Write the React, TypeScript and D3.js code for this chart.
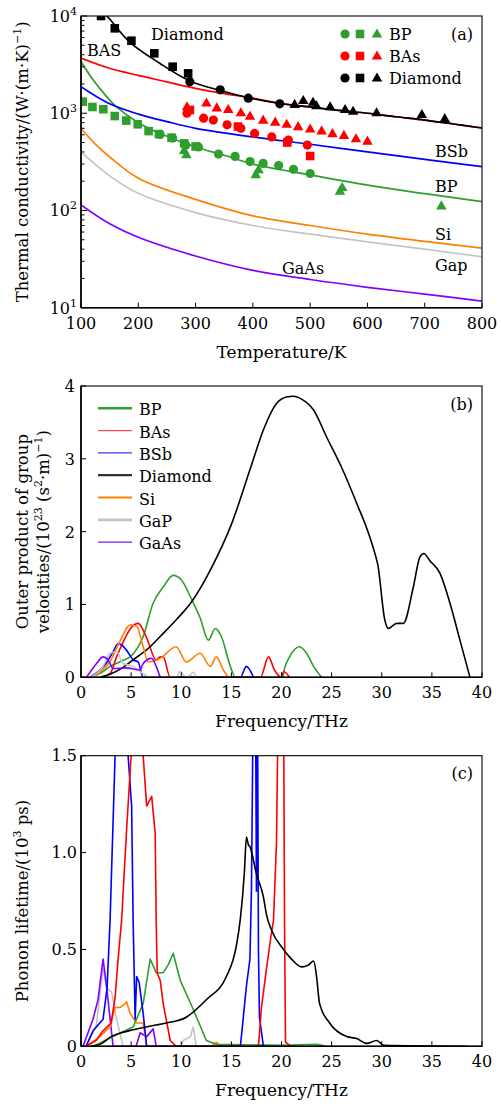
import React from 'react';
import * as d3 from 'd3';

const FONT = "'DejaVu Serif', serif";
const C_GREEN = '#2e9e2e';
const C_RED = '#ff0000';
const C_BLUE = '#0000ff';
const C_BLACK = '#000000';
const C_ORANGE = '#ff8000';
const C_GRAY = '#c4c4c4';
const C_PURPLE = '#8000ff';

// ---------- Panel (a): thermal conductivity vs temperature ----------
const aTempTicks = [100, 200, 300, 400, 500, 600, 700, 800];
const aDecades = [1, 2, 3, 4];

const aDiamondModel: [number, number][] = [[125, 12500], [145, 10000], [185, 5400], [238, 3250], [290, 2150], [342, 1720], [391, 1450], [447, 1260], [500, 1160], [550, 1070], [600, 1000], [650, 920], [700, 850], [750, 775], [800, 705]];
const aBAsModel: [number, number][] = [[100, 3700], [150, 2900], [200, 2450], [250, 2100], [300, 1800], [350, 1590], [400, 1430], [450, 1255], [500, 1160], [550, 1070], [600, 1000], [650, 920], [700, 850], [750, 775], [800, 705]];
const aBSbModel: [number, number][] = [[100, 1875], [150, 1250], [200, 980], [250, 820], [300, 700], [400, 570], [500, 480], [600, 400], [700, 335], [800, 282]];
const aBPModel: [number, number][] = [[100, 3400], [120, 2250], [140, 1600], [162, 1160], [200, 800], [238, 620], [300, 450], [350, 370], [400, 300], [500, 232], [600, 182], [700, 149], [800, 123]];
const aSiModel: [number, number][] = [[100, 700], [125, 480], [150, 355], [200, 215], [300, 130], [400, 88], [500, 70], [600, 57], [700, 48], [800, 41]];
const aGaPModel: [number, number][] = [[100, 400], [150, 227], [200, 150], [300, 95], [400, 70], [500, 57], [600, 47.5], [700, 40], [800, 33.4]];
const aGaAsModel: [number, number][] = [[100, 114], [150, 73], [200, 53], [300, 34], [400, 24.2], [500, 19.5], [600, 16.2], [700, 13.8], [800, 11.7]];

const aDiamondSquares: [number, number][] = [[135, 10000], [159, 7470], [188, 5570], [228, 4130], [260, 3010], [287, 2570]];
const aDiamondCircles: [number, number][] = [[290, 2110], [343, 1740], [392, 1430], [447, 1250]];
const aDiamondTriangles: [number, number][] = [[473, 1217], [488, 1336], [505, 1280], [511, 1180], [535, 1150], [561, 1080], [575, 1035], [616, 1000], [695, 960], [735, 870]];
const aBAsTriangles: [number, number][] = [[285, 1150], [319, 1260], [337, 1120], [357, 1080], [379, 1000], [395, 920], [418, 840], [439, 800], [459, 760], [479, 720], [500, 680], [520, 650], [539, 610], [559, 585], [580, 540], [600, 510]];
const aBAsCircles: [number, number][] = [[285, 1000], [314, 890], [331, 850], [355, 760], [379, 700], [403, 620], [433, 570], [462, 530], [495, 470]];
const aBAsSquares: [number, number][] = [[290, 1080], [374, 730], [460, 500], [500, 363]];
const aBPSquares: [number, number][] = [[103, 1316], [120, 1160], [139, 1100], [159, 935], [179, 840], [199, 770], [218, 655], [236, 610], [258, 560], [280, 490], [300, 455]];
const aBPCircles: [number, number][] = [[238, 605], [260, 555], [283, 470], [305, 450], [340, 380], [369, 360], [395, 318], [418, 305], [445, 290], [471, 265], [500, 240]];
const aBPTriangles: [number, number][] = [[280, 410], [284, 370], [405, 231], [410, 260], [552, 156], [556, 170], [729, 110]];

// ---------- Panel (b): outer product of group velocities ----------
const bFreqTicks = [0, 5, 10, 15, 20, 25, 30, 35, 40];
const bValueTicks = [0, 1, 2, 3, 4];
const bBP: [number, number][] = [[0.9, 0], [2, 0.06], [2.9, 0.15], [4, 0.22], [5.2, 0.32], [6.2, 0.56], [7.2, 1.02], [8.2, 1.24], [9.2, 1.40], [10, 1.34], [11, 1.08], [11.9, 0.81], [12.7, 0.51], [13.4, 0.67], [14, 0.56], [14.9, 0.15], [15.4, 0], [20.1, 0], [20.3, 0.12], [20.8, 0.28], [21.8, 0.42], [22.5, 0.33], [23.2, 0.15], [24, 0]];
const bBAs: [number, number][] = [[2, 0], [2.9, 0.05], [3.55, 0.28], [4.55, 0.58], [5.0, 0.68], [5.7, 0.74], [6.5, 0.56], [7.5, 0.24], [7.9, 0.28], [8.2, 0.28], [8.9, 0], [17.9, 0], [18.7, 0.28], [19.3, 0.1], [20, 0], [20.2, 0.08], [20.8, 0]];
const bBSb: [number, number][] = [[0.9, 0], [2.55, 0.2], [3.2, 0.35], [3.7, 0.46], [4.1, 0.44], [4.5, 0.38], [5.2, 0.24], [5.7, 0.21], [6.2, 0], [15.9, 0], [16.5, 0.15], [17.2, 0]];
const bDiamond: [number, number][] = [[1.9, 0], [3, 0.05], [4, 0.12], [5.2, 0.24], [6.9, 0.42], [7.9, 0.56], [9.5, 0.79], [11, 1.03], [13, 1.5], [15, 2.1], [16.9, 2.87], [18.2, 3.40], [19.5, 3.76], [20.5, 3.85], [21.2, 3.86], [22, 3.82], [23.2, 3.67], [24.5, 3.30], [26.1, 2.85], [27.5, 2.39], [28.8, 1.93], [29.4, 1.66], [29.6, 1.55], [30.3, 0.79], [30.65, 0.67], [31.5, 0.74], [32.15, 0.74], [33.15, 1.24], [33.8, 1.65], [34.2, 1.70], [34.8, 1.60], [35.8, 1.43], [36.8, 1.02], [37.8, 0.51], [38.8, 0]];
const bSi: [number, number][] = [[0.9, 0], [2.9, 0.22], [3.9, 0.5], [4.9, 0.72], [5.55, 0.70], [6.2, 0.42], [6.7, 0.21], [7.2, 0.22], [7.9, 0.26], [9.5, 0.42], [10.5, 0.21], [11.9, 0.33], [12.9, 0.15], [13.5, 0.28], [14.2, 0.1], [14.7, 0]];
const bGaP: [number, number][] = [[1, 0], [2.2, 0.15], [2.9, 0.33], [3.55, 0.35], [4.2, 0.19], [5.2, 0.15], [6.2, 0.05], [6.9, 0], [9.5, 0], [9.9, 0.08], [10.5, 0], [10.8, 0.02], [11.2, 0.07], [11.5, 0]];
const bGaAs: [number, number][] = [[0.55, 0], [1.55, 0.19], [2.2, 0.28], [2.7, 0.24], [3.2, 0.12], [4.5, 0.13], [5.9, 0.1], [6.2, 0.19], [7.05, 0.26], [7.5, 0.15], [7.9, 0]];

// ---------- Panel (c): phonon lifetime ----------
const cValueTicks = [0, 0.5, 1.0, 1.5];
const cValueLabels = ['0', '0.5', '1.0', '1.5'];
const cBP: [number, number][] = [[1.2, 0], [2, 0.02], [3.55, 0.06], [5.2, 0.1], [6.2, 0.22], [6.9, 0.45], [7.5, 0.38], [8.2, 0.38], [8.7, 0.42], [9.2, 0.48], [9.9, 0.34], [11.2, 0.19], [12.5, 0.03], [13.5, 0.01], [20, 0.005], [23.5, 0.01], [24.5, 0]];
const cBAs: [number, number][] = [[0.5, 0], [1.5, 0.03], [2.2, 0.08], [3, 0.12], [3.4, 0.25], [3.7, 0.45], [4.05, 0.65], [4.55, 1.12], [5.0, 1.5], [5.5, 1.9], [6.0, 1.9], [6.2, 1.5], [6.55, 1.24], [7.05, 1.29], [7.4, 1.1], [7.5, 0.65], [7.6, 0.38], [7.9, 0.34], [8.2, 0.22], [8.9, 0.03], [9.5, 0], [17.7, 0], [18, 0.2], [18.5, 0.4], [18.9, 0.55], [19.2, 0.65], [19.5, 1.05], [19.7, 1.9], [20.2, 1.9], [20.3, 0.65], [20.4, 0.02], [21, 0]];
const cBSb: [number, number][] = [[0.5, 0], [1.2, 0.08], [2.2, 0.14], [2.6, 0.3], [2.9, 0.65], [3.4, 1.5], [3.6, 1.9], [4.5, 1.9], [4.7, 1.5], [5.05, 1.24], [5.2, 0.65], [5.4, 0.14], [5.55, 0.36], [5.8, 0.33], [6.2, 0.17], [6.55, 0], [15.9, 0], [16.5, 0.31], [16.85, 0.45], [17.0, 0.8], [17.2, 1.9], [17.4, 1.9], [17.5, 0.8], [17.6, 1.9], [17.7, 0.5], [17.8, 0.15], [18.2, 0]];
const cDiamond: [number, number][] = [[1, 0], [1.9, 0.01], [3, 0.05], [4, 0.07], [5.2, 0.085], [6.5, 0.1], [8.5, 0.12], [10.5, 0.15], [12.5, 0.24], [14.5, 0.36], [15.5, 0.52], [15.9, 0.66], [16.3, 0.9], [16.5, 1.08], [16.7, 1.04], [16.85, 1.03], [17.5, 0.89], [18.2, 0.77], [18.5, 0.68], [19, 0.6], [20.2, 0.5], [21, 0.45], [22, 0.41], [22.7, 0.42], [23.2, 0.44], [23.5, 0.36], [23.8, 0.22], [24.8, 0.12], [26.5, 0.05], [27.5, 0.04], [28.5, 0.015], [29.5, 0.03], [30.2, 0.005], [38.5, 0]];
const cSi: [number, number][] = [[0.5, 0], [1.9, 0.05], [2.9, 0.1], [3.4, 0.2], [3.9, 0.2], [4.4, 0.22], [4.55, 0.23], [4.9, 0.17], [5.55, 0.12], [6.2, 0.12], [6.55, 0], [13, 0], [13.5, 0.02], [14, 0]];
const cGaP: [number, number][] = [[0.5, 0], [1.5, 0.1], [2.2, 0.4], [2.55, 0.3], [3.05, 0.28], [3.55, 0.14], [4.2, 0], [10, 0], [10.2, 0.03], [10.9, 0.05], [11.2, 0.1], [11.5, 0]];
const cGaAs: [number, number][] = [[0.2, 0], [1.2, 0.14], [1.7, 0.24], [2.2, 0.45], [2.55, 0.31], [3.2, 0], [5.5, 0], [5.9, 0.07], [6.55, 0.05], [7.2, 0.09], [7.5, 0]];

const legendNames = ['BP', 'BAs', 'BSb', 'Diamond', 'Si', 'GaP', 'GaAs'];
const legendColors = [C_GREEN, '#ff4a4a', '#3a3aff', '#333333', C_ORANGE, C_GRAY, '#7a1fe0'];
const legendWidths = [2.6, 1.3, 1.3, 2.2, 2.2, 2.8, 1.3];

const L = 81, R = 482;
const A_TOP = 16, A_BOT = 307.7;
const B_TOP = 386, B_BOT = 677.3;
const C_TOP = 755.7, C_BOT = 1046.3;

const xA = d3.scaleLinear().domain([100, 800]).range([L, R]);
const yA = d3.scaleLog().domain([10, 10000]).range([A_BOT, A_TOP]);
const xF = d3.scaleLinear().domain([0, 40]).range([L, R]);
const yB = d3.scaleLinear().domain([0, 4]).range([B_BOT, B_TOP]);
const yC = d3.scaleLinear().domain([0, 1.5]).range([C_BOT, C_TOP]);

const lineA = d3.line<[number, number]>().x(d => xA(d[0])).y(d => yA(d[1])).curve(d3.curveCatmullRom.alpha(0.5));
const lineB = d3.line<[number, number]>().x(d => xF(d[0])).y(d => yB(d[1])).curve(d3.curveMonotoneX);
const lineC = d3.line<[number, number]>().x(d => xF(d[0])).y(d => yC(d[1]));
const lineCs = d3.line<[number, number]>().x(d => xF(d[0])).y(d => yC(d[1])).curve(d3.curveMonotoneX);

const tri = d3.symbol(d3.symbolTriangle, 48)();

function Circles({ pts, color }: { pts: [number, number][]; color: string }) {
  return <g>{pts.map((p, i) => <circle key={i} cx={xA(p[0])} cy={yA(p[1])} r={4.6} fill={color} />)}</g>;
}
function Squares({ pts, color }: { pts: [number, number][]; color: string }) {
  return <g>{pts.map((p, i) => <rect key={i} x={xA(p[0]) - 4.3} y={yA(p[1]) - 4.3} width={8.6} height={8.6} fill={color} />)}</g>;
}
function Triangles({ pts, color }: { pts: [number, number][]; color: string }) {
  return <g>{pts.map((p, i) => <path key={i} d={tri || ''} transform={`translate(${xA(p[0])},${yA(p[1])})`} fill={color} />)}</g>;
}

function Frame({ top, bot }: { top: number; bot: number }) {
  return (
    <g fill="none" stroke="#000">
      <rect x={L} y={top} width={R - L} height={bot - top} strokeWidth={1.1} />
      <line x1={L} y1={top} x2={L} y2={bot} strokeWidth={1.6} />
      <line x1={L} y1={bot} x2={R} y2={bot} strokeWidth={1.6} />
    </g>
  );
}

function FreqAxis({ bot, labelY }: { bot: number; labelY: number }) {
  return (
    <g>
      {bFreqTicks.map(t => (
        <g key={t}>
          <line x1={xF(t)} x2={xF(t)} y1={bot} y2={bot - 5} stroke="#000" strokeWidth={1} />
          <text x={xF(t)} y={bot + 20.5} textAnchor="middle" fontSize={16} fontFamily={FONT}>{t}</text>
        </g>
      ))}
      <text x={(L + R) / 2} y={labelY} textAnchor="middle" fontSize={17} fontFamily={FONT}>Frequency/THz</text>
    </g>
  );
}

export default function App() {
  const minorA: number[] = [];
  for (let e = 1; e < 4; e++) for (let m = 2; m <= 9; m++) minorA.push(m * Math.pow(10, e));

  return (
    <svg width={501} height={1104} viewBox="0 0 501 1104" style={{ position: 'absolute', left: 0, top: 0, background: '#fff' }} fontFamily={FONT}>
      <defs>
        <clipPath id="clipA"><rect x={L} y={A_TOP} width={R - L} height={A_BOT - A_TOP} /></clipPath>
        <clipPath id="clipB"><rect x={L} y={B_TOP} width={R - L} height={B_BOT - B_TOP} /></clipPath>
        <clipPath id="clipC"><rect x={L} y={C_TOP} width={R - L} height={C_BOT - C_TOP} /></clipPath>
      </defs>
      <rect x={0} y={0} width={501} height={1104} fill="#fff" />

      {/* ===== Panel (a) ===== */}
      <g clipPath="url(#clipA)" fill="none" strokeWidth={1.7}>
        <path d={lineA(aGaAsModel) || ''} stroke={C_PURPLE} />
        <path d={lineA(aGaPModel) || ''} stroke={C_GRAY} />
        <path d={lineA(aSiModel) || ''} stroke={C_ORANGE} />
        <path d={lineA(aBPModel) || ''} stroke={C_GREEN} />
        <path d={lineA(aBSbModel) || ''} stroke={C_BLUE} />
        <path d={lineA(aBAsModel) || ''} stroke={C_RED} />
        <path d={lineA(aDiamondModel) || ''} stroke={C_BLACK} />
      </g>
      <g clipPath="url(#clipA)">
        <Squares pts={aBPSquares} color={C_GREEN} />
        <Circles pts={aBPCircles} color={C_GREEN} />
        <Triangles pts={aBPTriangles} color={C_GREEN} />
        <Triangles pts={aBAsTriangles} color={C_RED} />
        <Circles pts={aBAsCircles} color={C_RED} />
        <Squares pts={aBAsSquares} color={C_RED} />
        <Squares pts={aDiamondSquares} color={C_BLACK} />
        <Circles pts={aDiamondCircles} color={C_BLACK} />
        <Triangles pts={aDiamondTriangles} color={C_BLACK} />
      </g>
      <Frame top={A_TOP} bot={A_BOT} />
      {aTempTicks.map(t => (
        <g key={t}>
          <line x1={xA(t)} x2={xA(t)} y1={A_BOT} y2={A_BOT - 5} stroke="#000" />
          <text x={xA(t)} y={A_BOT + 21.5} textAnchor="middle" fontSize={16}>{t}</text>
        </g>
      ))}
      {aDecades.map(e => (
        <g key={e}>
          <line x1={L} x2={L + 6} y1={yA(Math.pow(10, e))} y2={yA(Math.pow(10, e))} stroke="#000" />
          <text x={77} y={yA(Math.pow(10, e)) + 6} textAnchor="end" fontSize={16}>10<tspan dy={-7} fontSize={11}>{e}</tspan></text>
        </g>
      ))}
      {minorA.map(v => <line key={v} x1={L} x2={L + 3.5} y1={yA(v)} y2={yA(v)} stroke="#000" />)}
      <text transform={`translate(28,${(A_TOP + A_BOT) / 2}) rotate(-90)`} textAnchor="middle" fontSize={16.5}>
        Thermal conductivity/(W·(m·K)<tspan dy={-7} fontSize={11}>−1</tspan><tspan dy={7}>)</tspan>
      </text>
      <text x={(L + R) / 2} y={358} textAnchor="middle" fontSize={17}>Temperature/K</text>
      <text x={473} y={40} textAnchor="end" fontSize={16}>(a)</text>
      <text x={151} y={40} fontSize={16}>Diamond</text>
      <text x={87} y={56} fontSize={16}>BAS</text>
      <text x={435} y={157} fontSize={16}>BSb</text>
      <text x={435} y={192} fontSize={16}>BP</text>
      <text x={435} y={240} fontSize={16}>Si</text>
      <text x={435} y={271} fontSize={16}>Gap</text>
      <text x={282} y={273.5} fontSize={16}>GaAs</text>
      {/* legend (a) */}
      {[['BP', C_GREEN, 34], ['BAs', C_RED, 56], ['Diamond', C_BLACK, 78]].map(([n, c, y]) => (
        <g key={n as string}>
          <circle cx={345} cy={y as number} r={4.6} fill={c as string} />
          <rect x={360 - 4.3} y={(y as number) - 4.3} width={8.6} height={8.6} fill={c as string} />
          <path d={tri || ''} transform={`translate(377,${(y as number) + 0.5})`} fill={c as string} />
          <text x={389} y={(y as number) + 5.5} fontSize={16}>{n}</text>
        </g>
      ))}

      {/* ===== Panel (b) ===== */}
      <g clipPath="url(#clipB)" fill="none" strokeWidth={1.6} strokeLinejoin="round">
        <path d={lineB(bBP) || ''} stroke={C_GREEN} />
        <path d={lineB(bBAs) || ''} stroke={C_RED} />
        <path d={lineB(bBSb) || ''} stroke={C_BLUE} />
        <path d={lineB(bDiamond) || ''} stroke={C_BLACK} />
        <path d={lineB(bSi) || ''} stroke={C_ORANGE} />
        <path d={lineB(bGaP) || ''} stroke={C_GRAY} />
        <path d={lineB(bGaAs) || ''} stroke={C_PURPLE} />
      </g>
      <Frame top={B_TOP} bot={B_BOT} />
      <FreqAxis bot={B_BOT} labelY={727} />
      {bValueTicks.map(t => (
        <g key={t}>
          <line x1={L} x2={L + 5} y1={yB(t)} y2={yB(t)} stroke="#000" />
          <text x={75} y={yB(t) + 6} textAnchor="end" fontSize={16}>{t}</text>
        </g>
      ))}
      <text transform={`translate(28,${(B_TOP + B_BOT) / 2}) rotate(-90)`} textAnchor="middle" fontSize={16.5}>Outer product of group</text>
      <text transform={`translate(49,${(B_TOP + B_BOT) / 2}) rotate(-90)`} textAnchor="middle" fontSize={16.5}>
        velocities/(10<tspan dy={-7} fontSize={11}>23</tspan><tspan dy={7}> (s</tspan><tspan dy={-7} fontSize={11}>2</tspan><tspan dy={7}>·m)</tspan><tspan dy={-7} fontSize={11}>−1</tspan><tspan dy={7}>)</tspan>
      </text>
      <text x={473} y={410} textAnchor="end" fontSize={16}>(b)</text>
      {legendNames.map((n, i) => {
        const y = 408.3 + i * 22.3;
        return (
          <g key={n}>
            <line x1={98} x2={132} y1={y} y2={y} stroke={legendColors[i]} strokeWidth={legendWidths[i]} />
            <text x={139} y={y + 7} fontSize={16}>{n}</text>
          </g>
        );
      })}

      {/* ===== Panel (c) ===== */}
      <g clipPath="url(#clipC)" fill="none" strokeWidth={1.6} strokeLinejoin="round">
        <path d={lineC(cGaP) || ''} stroke={C_GRAY} />
        <path d={lineC(cGaAs) || ''} stroke={C_PURPLE} />
        <path d={lineC(cSi) || ''} stroke={C_ORANGE} />
        <path d={lineC(cBP) || ''} stroke={C_GREEN} />
        <path d={lineC(cBSb) || ''} stroke={C_BLUE} />
        <path d={lineC(cBAs) || ''} stroke={C_RED} />
        <path d={lineCs(cDiamond) || ''} stroke={C_BLACK} />
      </g>
      <Frame top={C_TOP} bot={C_BOT} />
      <FreqAxis bot={C_BOT} labelY={1096} />
      {cValueTicks.map((t, i) => (
        <g key={t}>
          <line x1={L} x2={L + 5} y1={yC(t)} y2={yC(t)} stroke="#000" />
          <text x={77} y={yC(t) + 5.5} textAnchor="end" fontSize={16}>{cValueLabels[i]}</text>
        </g>
      ))}
      <text transform={`translate(28,${(C_TOP + C_BOT) / 2}) rotate(-90)`} textAnchor="middle" fontSize={16.5}>
        Phonon lifetime/(10<tspan dy={-7} fontSize={11}>3</tspan><tspan dy={7}> ps)</tspan>
      </text>
      <text x={473} y={779} textAnchor="end" fontSize={16}>(c)</text>
    </svg>
  );
}
